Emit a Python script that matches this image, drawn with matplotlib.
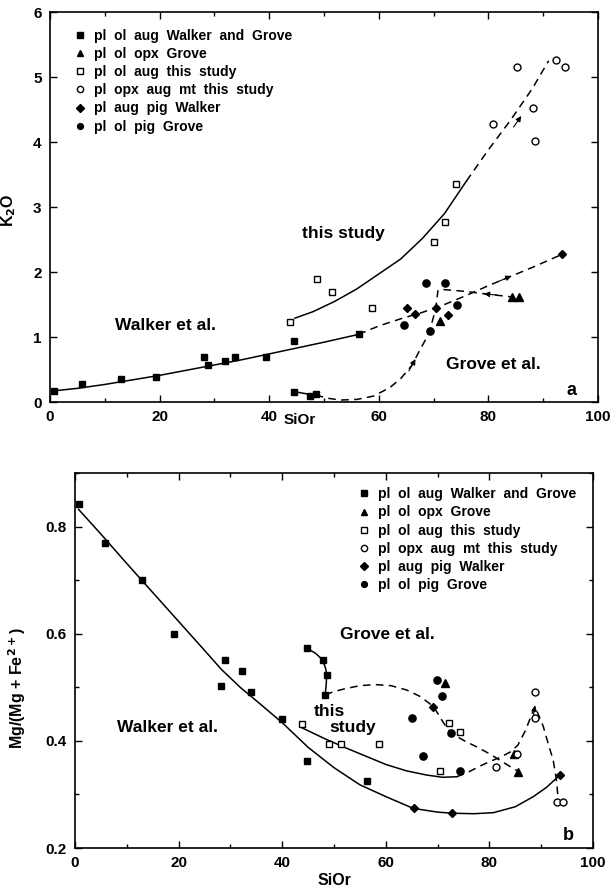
import matplotlib
matplotlib.use("Agg")
import matplotlib.pyplot as plt
from matplotlib.lines import Line2D
from matplotlib.ticker import MultipleLocator

plt.rcParams["font.family"] = ["Liberation Sans", "DejaVu Sans"]
plt.rcParams["font.weight"] = "bold"

# ── Panel a: K2O vs SiOr ──────────────────────────────────────────────────────
walker_sq_x = [0.7, 5.8, 12.9, 19.4, 28.1, 28.9, 32.0, 33.8, 39.5, 44.5, 56.3]
walker_sq_y = [0.17, 0.28, 0.36, 0.38, 0.70, 0.57, 0.63, 0.69, 0.69, 0.94, 1.05]
grove_sq_x = [44.5, 47.5, 48.5]
grove_sq_y = [0.16, 0.10, 0.13]
tri_x = [71.2, 84.4, 85.6]
tri_y = [1.25, 1.62, 1.62]
osq_x = [43.8, 48.8, 51.4, 58.7, 70.1, 72.0, 74.1]
osq_y = [1.23, 1.90, 1.70, 1.44, 2.46, 2.77, 3.35]
ocirc_x = [80.9, 85.3, 88.2, 88.5, 92.3, 94.0]
ocirc_y = [4.27, 5.16, 4.52, 4.01, 5.26, 5.16]
dia_x = [65.1, 66.7, 70.4, 72.6, 93.4]
dia_y = [1.45, 1.35, 1.44, 1.34, 2.27]
fcirc_x = [68.6, 72.0, 64.6, 69.4, 74.2]
fcirc_y = [1.83, 1.83, 1.18, 1.09, 1.50]

# trend lines (hand drawn in the original)
a_walker_x = [0.5, 5, 10, 15, 20, 25, 30, 35, 40, 45, 50, 56.3]
a_walker_y = [0.17, 0.21, 0.27, 0.34, 0.41, 0.49, 0.57, 0.65, 0.74, 0.83, 0.92, 1.04]
a_walker_dash_x = [56.3, 60, 64, 68, 72, 76, 80, 84, 88, 93.4]
a_walker_dash_y = [1.04, 1.17, 1.28, 1.38, 1.50, 1.64, 1.79, 1.93, 2.07, 2.27]
a_study_x = [44.7, 48, 52, 56, 60, 64, 68, 72, 76]
a_study_y = [1.29, 1.39, 1.55, 1.74, 1.97, 2.20, 2.52, 2.90, 3.40]
a_study_dash_x = [76, 80, 84, 88, 91]
a_study_dash_y = [3.40, 3.88, 4.33, 4.82, 5.25]
a_grove_solid_x = [44.5, 47.9]
a_grove_solid_y = [0.16, 0.11]
a_grove_dash_x = [48.5, 50.5, 53, 56, 59, 62, 64, 66, 67.5, 68.8, 69.8, 70.4, 70.8]
a_grove_dash_y = [0.11, 0.06, 0.03, 0.04, 0.09, 0.22, 0.36, 0.56, 0.80, 1.00, 1.25, 1.44, 1.72]
a_grove_top_x = [71.8, 76, 79.7, 84.0]
a_grove_top_y = [1.73, 1.70, 1.66, 1.62]
# arrow heads: (tail x, tail y, head x, head y)
a_arrows = [
    (82.0, 1.86, 84.2, 1.94),
    (84.6, 4.23, 86.0, 4.40),
    (65.5, 0.48, 66.7, 0.66),
    (81.5, 1.645, 79.2, 1.665),
]

# ── Panel b: Mg/(Mg+Fe2+) vs SiOr ─────────────────────────────────────────────
b_walker_sq_x = [0.7, 5.8, 12.9, 19.1, 29.0, 28.1, 32.2, 34.0, 39.9, 44.8, 56.3]
b_walker_sq_y = [0.842, 0.770, 0.700, 0.600, 0.551, 0.503, 0.531, 0.492, 0.441, 0.363, 0.326]
b_grove_sq_x = [44.8, 47.8, 48.6, 48.3]
b_grove_sq_y = [0.573, 0.551, 0.522, 0.486]
b_tri_x = [71.4, 84.7, 85.6]
b_tri_y = [0.508, 0.376, 0.342]
b_osq_x = [43.9, 49.1, 51.3, 58.7, 70.5, 72.3, 74.3]
b_osq_y = [0.432, 0.394, 0.394, 0.394, 0.344, 0.433, 0.416]
b_ocirc_x = [81.3, 85.3, 88.8, 88.8, 93.0, 94.3]
b_ocirc_y = [0.352, 0.376, 0.491, 0.442, 0.285, 0.285]
b_dia_x = [69.2, 65.4, 72.7, 93.6]
b_dia_y = [0.464, 0.274, 0.265, 0.336]
b_fcirc_x = [69.8, 70.8, 65.0, 72.5, 67.1, 74.3]
b_fcirc_y = [0.513, 0.484, 0.442, 0.415, 0.372, 0.344]

b_walker_x = [0.7, 5, 10, 15, 20, 25, 28.3, 32, 35, 40, 45, 50, 55, 60, 65.3, 70,
              72.7, 77, 80.8, 85, 88.5, 91, 93.6]
b_walker_y = [0.832, 0.786, 0.731, 0.677, 0.623, 0.569, 0.533, 0.499, 0.475, 0.434,
              0.388, 0.350, 0.318, 0.296, 0.274, 0.267, 0.265, 0.264, 0.266, 0.277,
              0.296, 0.313, 0.336]
b_study_x = [43.9, 48, 52, 56, 60, 64, 68, 71, 73.7]
b_study_y = [0.424, 0.405, 0.388, 0.372, 0.356, 0.344, 0.336, 0.332, 0.333]
b_study_dash_x = [73.7, 76, 78, 80, 82, 84, 85.5, 87, 88, 88.8, 89.6, 90.4, 91.5, 92.3,
                  92.9, 93.3]
b_study_dash_y = [0.333, 0.342, 0.352, 0.361, 0.369, 0.379, 0.392, 0.420, 0.445, 0.464,
                  0.446, 0.427, 0.390, 0.365, 0.330, 0.290]
b_grove_solid_x = [44.8, 46.5, 47.8, 48.4, 48.6, 48.5, 48.3]
b_grove_solid_y = [0.573, 0.563, 0.551, 0.535, 0.522, 0.505, 0.486]
b_grove_dash_x = [48.3, 50, 52, 55, 58, 61, 64, 66.6, 68, 69.2, 70, 70.8, 71.6, 72.5,
                  75, 77.5, 80, 82, 84, 85.6]
b_grove_dash_y = [0.486, 0.492, 0.497, 0.503, 0.505, 0.503, 0.495, 0.483, 0.473, 0.464,
                  0.452, 0.439, 0.427, 0.415, 0.401, 0.389, 0.376, 0.364, 0.352, 0.343]
b_arrows = [
    (88.4, 0.440, 88.8, 0.466),
]

legend_labels = [
    "pl  ol  aug  Walker  and  Grove",
    "pl  ol  opx  Grove",
    "pl  ol  aug  this  study",
    "pl  opx  aug  mt  this  study",
    "pl  aug  pig  Walker",
    "pl  ol  pig  Grove",
]

LW = 1.1
DASH = (0, (5, 3.5))


def draw_points(ax, fsq, gsq, tri, osq, oci, dia, fci):
    kw = dict(ls="none", color="black", zorder=4)
    ax.plot(*fsq, marker="s", ms=4.8, **kw)
    ax.plot(*gsq, marker="s", ms=4.8, **kw)
    ax.plot(*tri, marker="^", ms=5.2, **kw)
    ax.plot(*osq, marker="s", ms=5, mfc="white", mew=1.0, **kw)
    ax.plot(*oci, marker="o", ms=5, mfc="white", mew=1.0, **kw)
    ax.plot(*dia, marker="D", ms=4, **kw)
    ax.plot(*fci, marker="o", ms=5.2, **kw)


def add_legend(ax, anchor):
    handles = [
        Line2D([], [], ls="none", marker="s", ms=4, color="black"),
        Line2D([], [], ls="none", marker="^", ms=5, color="black"),
        Line2D([], [], ls="none", marker="s", ms=4.5, mfc="white", color="black"),
        Line2D([], [], ls="none", marker="o", ms=4.5, mfc="white", color="black"),
        Line2D([], [], ls="none", marker="D", ms=3.6, color="black"),
        Line2D([], [], ls="none", marker="o", ms=4.2, color="black"),
    ]
    ax.legend(handles, legend_labels, loc="upper left", bbox_to_anchor=anchor,
              frameon=False, fontsize=10, handlelength=0.6, handletextpad=0.7,
              labelspacing=0.3, borderaxespad=0, borderpad=0)


def style_axes(ax):
    ax.tick_params(which="both", direction="in", top=True, right=True,
                   labelsize=11, width=1.0, pad=6)
    ax.tick_params(which="major", length=5)
    ax.tick_params(which="minor", length=3)
    for sp in ax.spines.values():
        sp.set_linewidth(1.2)


def arrows(ax, items):
    for x0, y0, x1, y1 in items:
        ax.annotate("", xy=(x1, y1), xytext=(x0, y0),
                    arrowprops=dict(arrowstyle="-|>", color="black", lw=0.8,
                                    mutation_scale=8, shrinkA=0, shrinkB=0))


fig = plt.figure(figsize=(6.11, 8.89), dpi=100)
fig.patch.set_facecolor("white")

# ── panel a ──
ax1 = fig.add_axes([0.0818, 0.5478, 0.8969, 0.4387])
ax1.plot(a_walker_x, a_walker_y, color="black", lw=LW)
ax1.plot(a_walker_dash_x, a_walker_dash_y, color="black", lw=LW, ls=DASH)
ax1.plot(a_study_x, a_study_y, color="black", lw=LW)
ax1.plot(a_study_dash_x, a_study_dash_y, color="black", lw=LW, ls=DASH)
ax1.plot(a_grove_solid_x, a_grove_solid_y, color="black", lw=LW)
ax1.plot(a_grove_dash_x, a_grove_dash_y, color="black", lw=LW, ls=DASH)
ax1.plot(a_grove_top_x, a_grove_top_y, color="black", lw=LW, ls=DASH)
arrows(ax1, a_arrows)
draw_points(ax1, (walker_sq_x, walker_sq_y), (grove_sq_x, grove_sq_y), (tri_x, tri_y),
            (osq_x, osq_y), (ocirc_x, ocirc_y), (dia_x, dia_y), (fcirc_x, fcirc_y))

ax1.set_xlim(0, 100)
ax1.set_ylim(0, 6)
ax1.xaxis.set_major_locator(MultipleLocator(20))
ax1.xaxis.set_minor_locator(MultipleLocator(10))
ax1.yaxis.set_major_locator(MultipleLocator(1))
style_axes(ax1)
ax1.set_ylabel("K$_\\mathbf{2}$O", fontsize=11.5, fontweight="bold")
ax1.yaxis.set_label_coords(-0.058, 0.492)
ax1.text(46, 2.6, "this study", fontsize=12.5, va="center")
ax1.text(21, 1.18, "Walker et al.", fontsize=12.5, ha="center", va="center")
ax1.text(81, 0.58, "Grove et al.", fontsize=12.5, ha="center", va="center")
ax1.text(95.2, 0.18, "a", fontsize=13, ha="center", va="center")
add_legend(ax1, (0.047, 0.957))
fig.text(300 / 611, 1 - 420 / 889, "SiOr", fontsize=11, fontweight="bold",
         ha="center", va="center")

# ── panel b ──
ax2 = fig.add_axes([0.1227, 0.0461, 0.8478, 0.4219])
ax2.plot(b_walker_x, b_walker_y, color="black", lw=LW)
ax2.plot(b_study_x, b_study_y, color="black", lw=LW)
ax2.plot(b_study_dash_x, b_study_dash_y, color="black", lw=LW, ls=DASH)
ax2.plot(b_grove_solid_x, b_grove_solid_y, color="black", lw=LW)
ax2.plot(b_grove_dash_x, b_grove_dash_y, color="black", lw=LW, ls=DASH)
arrows(ax2, b_arrows)
draw_points(ax2, (b_walker_sq_x, b_walker_sq_y), (b_grove_sq_x, b_grove_sq_y), (b_tri_x, b_tri_y),
            (b_osq_x, b_osq_y), (b_ocirc_x, b_ocirc_y), (b_dia_x, b_dia_y), (b_fcirc_x, b_fcirc_y))

ax2.set_xlim(0, 100)
ax2.set_ylim(0.2, 0.9)
ax2.xaxis.set_major_locator(MultipleLocator(20))
ax2.xaxis.set_minor_locator(MultipleLocator(10))
ax2.yaxis.set_major_locator(MultipleLocator(0.2))
ax2.yaxis.set_minor_locator(MultipleLocator(0.1))
style_axes(ax2)
ax2.set_ylabel("Mg/(Mg + Fe$^{\\mathbf{2+}}$)", fontsize=11.5, fontweight="bold")
ax2.yaxis.set_label_coords(-0.091, 0.427)
ax2.set_xlabel("SiOr", fontsize=11.5, fontweight="bold", labelpad=2)
ax2.text(60.4, 0.598, "Grove et al.", fontsize=12.5, ha="center", va="center")
ax2.text(46, 0.455, "this", fontsize=12.5, va="center")
ax2.text(49.2, 0.424, "study", fontsize=12.5, va="center")
ax2.text(17.8, 0.424, "Walker et al.", fontsize=12.5, ha="center", va="center")
ax2.text(95.2, 0.224, "b", fontsize=13, ha="center", va="center")
add_legend(ax2, (0.55, 0.962))

fig.savefig("out.png", dpi=100, facecolor="white")
